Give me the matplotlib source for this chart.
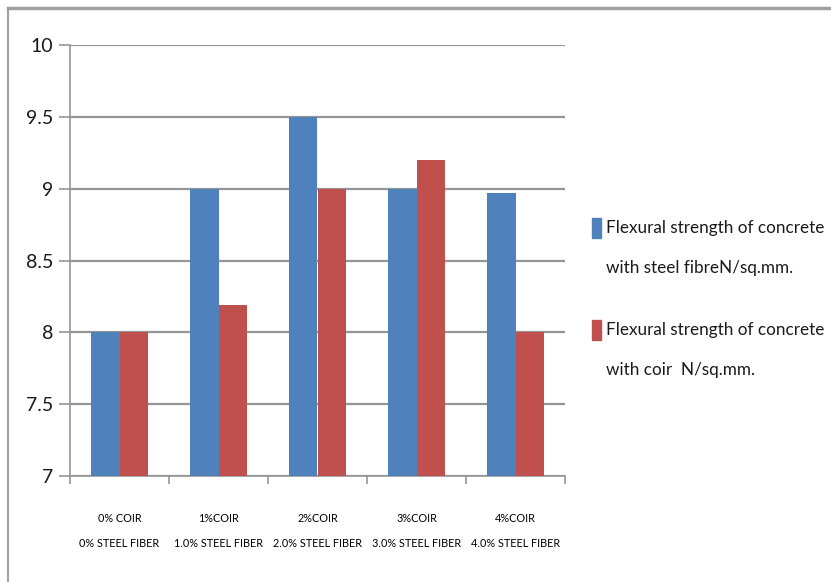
import matplotlib
matplotlib.use("Agg")
import matplotlib.pyplot as plt
from matplotlib.lines import Line2D
from matplotlib.patches import Rectangle
import numpy as np

categories = ["0% COIR\n0% STEEL FIBER",
              "1%COIR\n1.0% STEEL FIBER",
              "2%COIR\n2.0% STEEL FIBER",
              "3%COIR\n3.0% STEEL FIBER",
              "4%COIR\n4.0% STEEL FIBER"]
steel = [8.0, 9.0, 9.5, 9.0, 8.97]
coir = [8.0, 8.19, 9.0, 9.2, 8.0]
series_names = [["Flexural strength of concrete", "with steel fibreN/sq.mm."],
                ["Flexural strength of concrete", "with coir  N/sq.mm."]]
colors = ["#4f81bd", "#c0504d"]

plt.rcParams['font.family'] = ['Lato', 'DejaVu Sans']

W, H = 831, 582
fig = plt.figure(figsize=(W/100, H/100), dpi=100)
ax = fig.add_axes([70/W, 1-476/H, (565-70)/W, (476-45)/H])

x = np.arange(len(categories))
w = 0.285
ax.bar(x - w/2, steel, w, color=colors[0], zorder=3)
ax.bar(x + w/2, coir, w, color=colors[1], zorder=3)

ax.set_ylim(7, 10)
ax.set_xlim(-0.5, len(categories) - 0.5)
ax.set_yticks(np.arange(7, 10.01, 0.5))
ax.set_yticklabels(["7", "7.5", "8", "8.5", "9", "9.5", "10"])
ax.yaxis.grid(True, color="#969696", linewidth=1.6, zorder=0)
ax.set_xticks(np.arange(-0.5, len(categories), 1.0))
ax.set_xticklabels([])
ax.set_xticks(x, minor=True)
ax.set_xticklabels(categories, minor=True, fontsize=7.8, linespacing=2.5)
ax.tick_params(axis="x", which="minor", length=0, pad=27)
ax.tick_params(axis="x", which="major", length=6, color="#969696", width=1.2)
ax.tick_params(axis="y", length=8, color="#969696", width=1.2, labelsize=14, pad=4)

for s in ["top", "right"]:
    ax.spines[s].set_visible(False)
for s in ["left", "bottom"]:
    ax.spines[s].set_color("#969696")
    ax.spines[s].set_linewidth(1.2)

for t in ax.get_yticklabels():
    t.set_color("#1a1a1a")

# legend drawn by hand to get the wide line spacing of the original
for i, (lines, c) in enumerate(zip(series_names, colors)):
    y0 = 228 + i * 102
    fig.add_artist(Rectangle((592/W, 1-(y0+10)/H), 9/W, 20/H, color=c,
                             transform=fig.transFigure))
    for j, line in enumerate(lines):
        fig.text(606/W, 1-(y0 + j*40)/H, line, fontsize=12.3, va="center",
                 ha="left", color="#1a1a1a")

# outer chart border (top and left visible)
fig.add_artist(Line2D([8/W, 1.0], [1-8/H, 1-8/H], color="#a0a0a0", lw=2.5))
fig.add_artist(Line2D([8/W, 8/W], [0.0, 1-8/H], color="#a0a0a0", lw=1.5))

fig.savefig("out.png", dpi=100)
